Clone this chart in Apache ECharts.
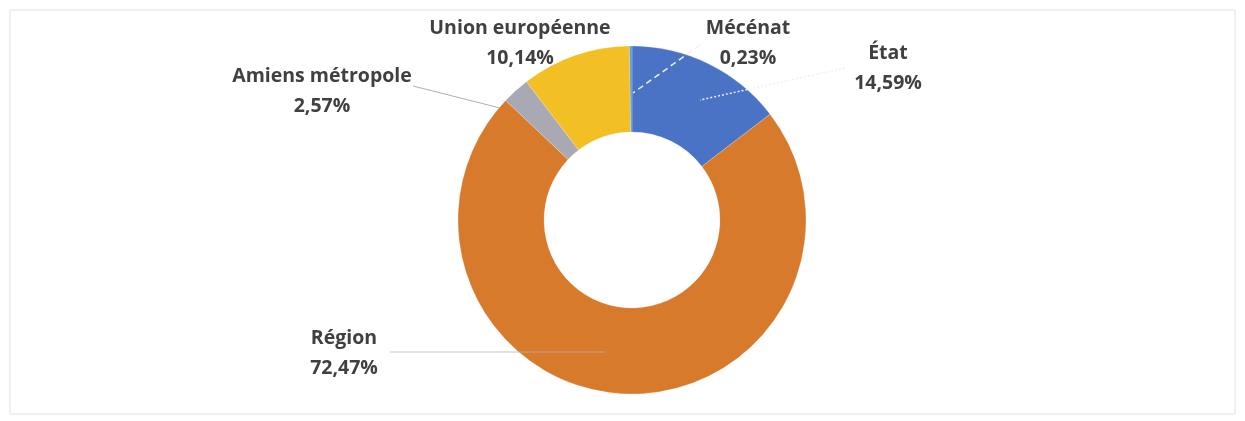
<!DOCTYPE html>
<html><head><meta charset="utf-8">
<script src="https://cdn.jsdelivr.net/npm/echarts@6/dist/echarts.min.js"></script>
<style>html,body{margin:0;padding:0;background:#fff}#c{width:1245px;height:421px}</style>
</head><body><div id="c"></div>
<script>
const categories = ['État', 'Région', 'Amiens métropole', 'Union européenne', 'Mécénat'];
const values = [14.59, 72.47, 2.57, 10.14, 0.23];
const colors = ['#4A73C6', '#D77A2C', '#A9A9B4', '#F2BF25', '#5B9BD5'];
// style only: centre of each two-line label, and leader-line ends (annotation)
const labelPos = [[888, 68], [344, 353], [322, 91], [520, 43], [748, 43]];
const leaders = [
  [[845, 68], [700, 100]],
  [[390, 352], [605, 352]],
  [[413, 86], [500, 108]],
  null,
  [[700, 45], [633, 93]]
];
const lineStyles = [
  {stroke: '#eef0f8', lineDash: [2, 2], lineWidth: 1.5},
  {stroke: 'rgba(180,180,180,0.8)', lineWidth: 1},
  {stroke: '#b0b0b0', lineWidth: 1},
  null,
  {stroke: '#f0f0f0', lineDash: [6, 4], lineWidth: 1.5}
];
const fmt = v => v.toFixed(2).replace('.', ',') + '%';
const leaderGraphics = leaders.map((l, i) => l ? ({
  type: 'polyline', z: 100, silent: true,
  shape: {points: l},
  style: Object.assign({fill: null}, lineStyles[i])
}) : null).filter(Boolean);
const chart = echarts.init(document.getElementById('c'), null, {renderer: 'canvas'});
chart.setOption({
  animation: false,
  backgroundColor: '#fff',
  graphic: [{type: 'rect', shape: {x: 10, y: 10, width: 1225, height: 404}, style: {fill: 'none', stroke: '#e2e2e2', lineWidth: 1}, z: -1}].concat(leaderGraphics),
  series: [{
    type: 'pie',
    center: [632, 220],
    radius: [88, 174],
    startAngle: 90,
    clockwise: true,
    avoidLabelOverlap: false,
    itemStyle: {borderColor: 'rgba(255,255,255,0.4)', borderWidth: 0.5},
    label: {
      show: true,
      formatter: p => p.name + '\n' + fmt(p.value),
      fontFamily: '"Open Sans", Lato, sans-serif',
      fontWeight: 'bold',
      fontSize: 19.5,
      lineHeight: 30,
      color: '#404040'
    },
    labelLine: {show: false},
    labelLayout: function (params) {
      const p = labelPos[params.dataIndex];
      return {x: p[0], y: p[1], align: 'center', verticalAlign: 'middle'};
    },
    data: categories.map((c, i) => ({
      name: c, value: values[i],
      itemStyle: {color: colors[i]}
    }))
  }]
});
</script></body></html>
